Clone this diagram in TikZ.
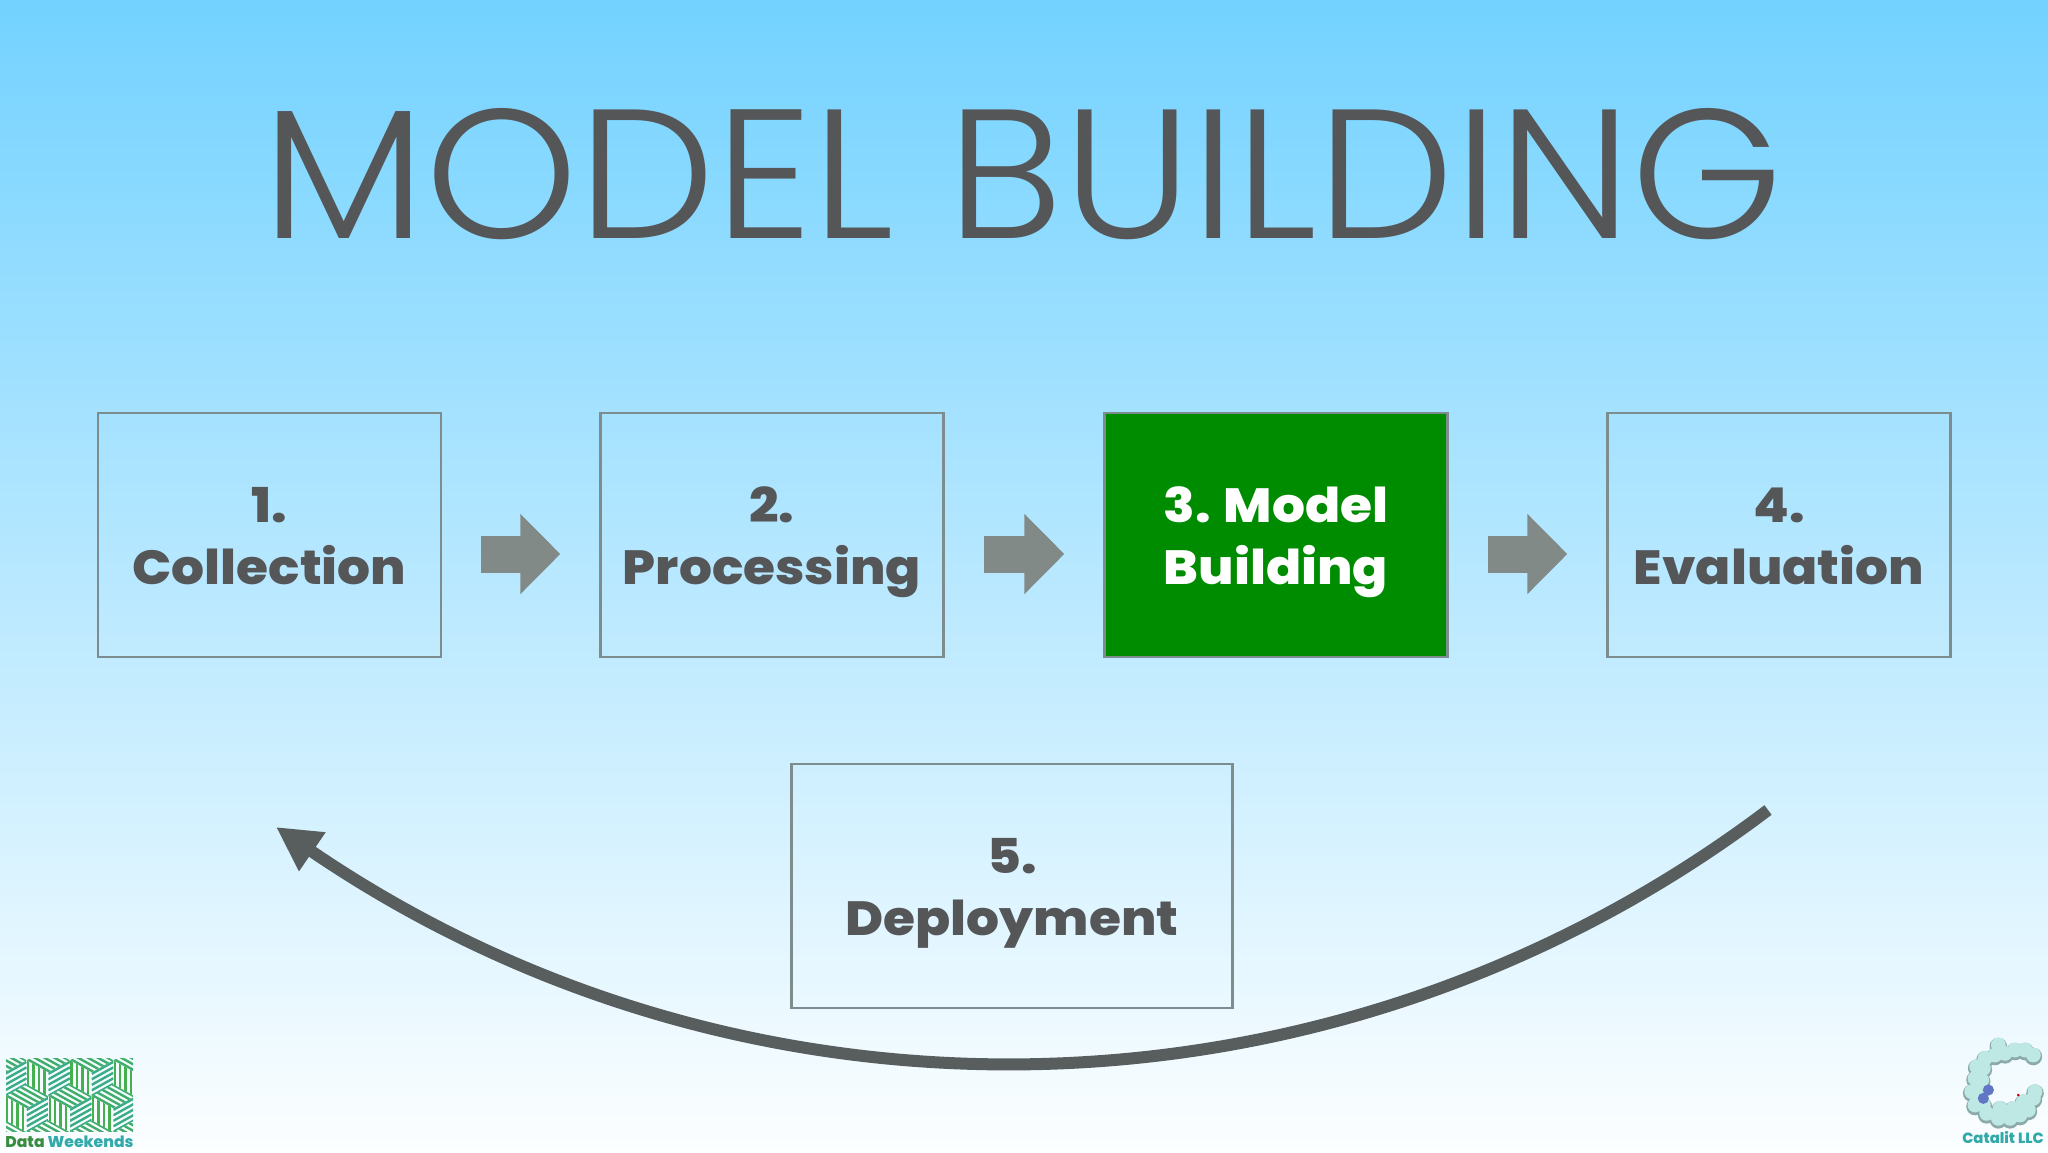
\documentclass[tikz,border=0pt]{standalone}
\usepackage{fontspec}
\setmainfont{Poppins ExtraBold}[FakeStretch=1.08]
\newfontfamily\logofont{Poppins ExtraBold}
\newfontfamily\titlefont{Poppins Light}[FakeStretch=1.054]
\usetikzlibrary{arrows.meta}
\definecolor{skytop}{RGB}{115,210,255}
\definecolor{skybot}{RGB}{252,254,255}
\definecolor{ink}{RGB}{85,86,88}
\definecolor{edgegray}{RGB}{125,140,140}
\definecolor{arrowgray}{RGB}{130,138,135}
\definecolor{curvegray}{RGB}{88,94,94}
\definecolor{stepgreen}{RGB}{0,140,0}
\definecolor{logogreen}{RGB}{70,175,80}
\definecolor{logoteal}{RGB}{50,170,170}
\definecolor{blobpale}{RGB}{190,232,228}
\definecolor{blobdark}{RGB}{140,170,170}
\newcommand{\twolines}[2]{\raisebox{0pt}[20pt][0pt]{#1}\\\raisebox{0pt}[0pt][2pt]{#2}}
\tikzset{
  stepbox/.style={draw=edgegray,line width=1.2pt,minimum width=171.5pt,minimum height=122pt,inner sep=0pt,align=center,text=ink,font=\fontsize{24}{31}\selectfont},
  widebox/.style={stepbox,minimum width=220.5pt},
  blockarrow/.style={draw=arrowgray,line width=18.5pt,-{Triangle[length=20pt,width=39pt,fill=arrowgray]}},
  returnarrow/.style={draw=curvegray,line width=6pt,-{Triangle[length=22pt,width=22pt,fill=curvegray]}},
  stripe/.style={line width=1.2pt}
}
\newcommand{\cube}[2]{%
 \begin{scope}
  \clip (#1,#2) -- ++(-21.65,-12) -- ++(0,24) -- ++(21.65,12) -- cycle;
  \foreach \k in {0,5.4,...,22} \draw[stripe,logogreen] ({#1-21.65+\k+1.5},{#2-30}) -- ++(0,60);
 \end{scope}
 \begin{scope}
  \clip (#1,#2) -- ++(21.65,-12) -- ++(0,24) -- ++(-21.65,12) -- cycle;
  \foreach \k in {1.5,7,...,24} \draw[stripe,logoteal!60!logogreen] (#1,{#2+\k}) -- ++(21.65,-12);
 \end{scope}
 \begin{scope}
  \clip (#1,#2) -- ++(-21.65,-12) -- ++(21.65,-12) -- ++(21.65,12) -- cycle;
  \foreach \k in {1.5,7,...,24} \draw[stripe,logogreen!70!logoteal] ({#1-21.65},{#2-12-\k}) -- ++(43.3,24);
 \end{scope}}
\begin{document}
\begin{tikzpicture}[x=0.5pt,y=-0.5pt]
\useasboundingbox (0,0) rectangle (2048,1152);
\shade[top color=skytop,bottom color=skybot] (0,0) rectangle (2048,1152);
\node[font=\titlefont\fontsize{92}{92}\selectfont,text=ink,inner sep=0pt,anchor=base] (title) at (1023,238) {MODEL BUILDING};
\node[stepbox] (b1) at (269.5,535) {\twolines{1.}{Collection}};
\node[stepbox] (b2) at (772,535) {\twolines{2.}{Processing}};
\node[stepbox,fill=stepgreen,text=white] (b3) at (1276,535) {\twolines{3. Model}{Building}};
\node[stepbox] (b4) at (1779,535) {\twolines{4.}{Evaluation}};
\node[widebox] (b5) at (1012,886) {\twolines{5.}{Deployment}};
\draw[blockarrow] ([xshift=19.5pt,yshift=-9.5pt]b1.east) -- ([xshift=-19.5pt,yshift=-9.5pt]b2.west);
\draw[blockarrow] ([xshift=19.5pt,yshift=-9.5pt]b2.east) -- ([xshift=-19.5pt,yshift=-9.5pt]b3.west);
\draw[blockarrow] ([xshift=19.5pt,yshift=-9.5pt]b3.east) -- ([xshift=-19.5pt,yshift=-9.5pt]b4.west);
\coordinate (retstart) at (1768,810);
\coordinate (rettip) at (276,827);
\draw[returnarrow] (retstart) .. controls (1335,1137) and (745,1147) .. (rettip);
% Data Weekends logo
\begin{scope}
 \clip (6,1058) rectangle (133,1131);
 \foreach \cx in {48.3,91.7,135,5} {\cube{\cx}{1072.3}}
 \foreach \cx in {26.7,70,113.3} {\cube{\cx}{1108.3}}
 \foreach \cx in {5,48.3,91.7,135} {\cube{\cx}{1144.3}}
\end{scope}
\node[font=\logofont\fontsize{7.8}{9}\selectfont,inner sep=0pt,anchor=base west] (dw) at (5,1147) {\textcolor{logogreen!80!black}{Data} \textcolor{logoteal}{Weekends}};
% Catalit logo
\foreach \x/\y in {340/75,315/60,285/60,255/70,235/45,225/75,195/85,190/115,170/110,165/145,185/150,155/185,175/185,165/225,190/225,200/250,235/265,270/265,300/255,325/240,340/205,345/185,310/215,280/235,240/235} {
 \fill[blobdark] ({1920+\x/3},{1031.5+\y/3}) circle[radius=4.4pt];}
\foreach \x/\y in {340/75,315/60,285/60,255/70,235/45,225/75,195/85,190/115,170/110,165/145,185/150,155/185,175/185,165/225,190/225,200/250,235/265,270/265,300/255,325/240,340/205,345/185,310/215,280/235,240/235} {
 \fill[blobpale] ({1920+\x/3},{1030+\y/3}) circle[radius=3.7pt];}
\fill[blue!30!blobdark] ({1920+205/3},{1030+180/3}) circle[radius=2.8pt];
\fill[blue!30!blobdark] ({1920+190/3},{1030+205/3}) circle[radius=2.8pt];
\fill[red!70!black] ({1920+295/3},{1030+195/3}) circle[radius=.7pt];
\node[font=\logofont\fontsize{7.4}{9}\selectfont,text=logoteal,inner sep=0pt,anchor=base] (cat) at (2003,1143) {Catalit LLC};
\end{tikzpicture}
\end{document}
